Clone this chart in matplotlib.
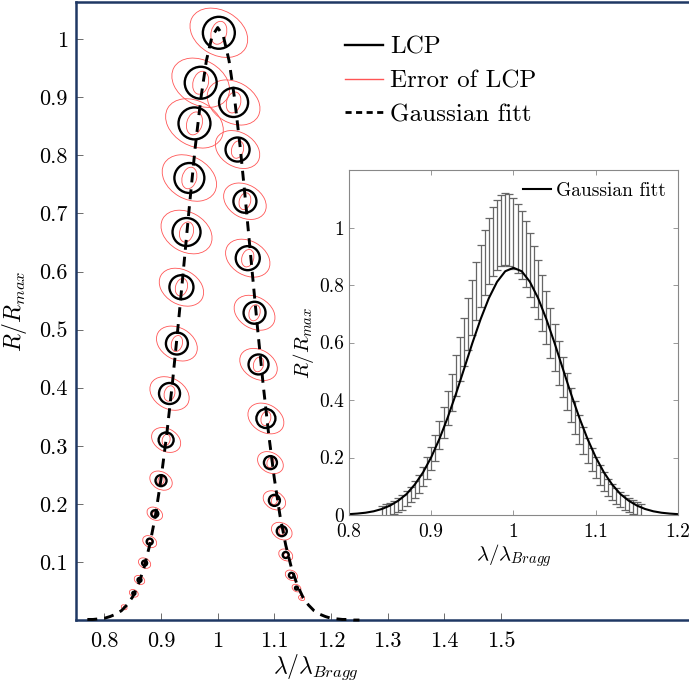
import matplotlib
matplotlib.use("Agg")
import matplotlib.pyplot as plt
from matplotlib.patches import Ellipse
from matplotlib.transforms import ScaledTranslation
from matplotlib.lines import Line2D

plt.rcParams['font.family'] = 'serif'
plt.rcParams['font.serif'] = ['cmr10']
plt.rcParams['mathtext.fontset'] = 'cm'
plt.rcParams['axes.formatter.use_mathtext'] = True

# LCP points (main plot): wavelength, R/Rmax, uncertainty radius (R/Rmax units)
lcp_x = [1.002, 0.970, 0.959, 0.950, 0.945, 0.936, 0.928, 0.915, 0.909, 0.900,
         0.889, 0.880, 0.871, 0.862, 0.852, 0.835,
         1.028, 1.035, 1.048, 1.053, 1.065, 1.072, 1.085, 1.093, 1.100, 1.113,
         1.120, 1.130, 1.139, 1.148]
lcp_y = [1.011, 0.925, 0.855, 0.761, 0.668, 0.573, 0.476, 0.390, 0.310, 0.240,
         0.183, 0.135, 0.098, 0.069, 0.046, 0.022,
         0.891, 0.810, 0.721, 0.623, 0.529, 0.440, 0.347, 0.271, 0.206, 0.153,
         0.112, 0.077, 0.055, 0.038]
lcp_err = [0.0275, 0.0275, 0.0275, 0.0258, 0.0241, 0.0207, 0.0189, 0.0181, 0.0129, 0.0095,
           0.0060, 0.0052, 0.0043, 0.0034, 0.0026, 0.0010,
           0.0250, 0.0207, 0.0198, 0.0207, 0.0189, 0.0172, 0.0164, 0.0112, 0.0095, 0.0086,
           0.0052, 0.0043, 0.0026, 0.0012]

# Gaussian fit (main plot)
fit_x = [0.77, 0.78, 0.79, 0.80, 0.81, 0.82, 0.83, 0.84, 0.85, 0.86, 0.87, 0.88,
         0.89, 0.90, 0.91, 0.92, 0.93, 0.94, 0.95, 0.96, 0.97, 0.98, 0.99, 1.00,
         1.01, 1.02, 1.03, 1.04, 1.05, 1.06, 1.07, 1.08, 1.09, 1.10, 1.11, 1.12,
         1.13, 1.14, 1.15, 1.16, 1.17, 1.18, 1.19, 1.20, 1.21, 1.22, 1.23, 1.24, 1.25]
fit_y = [0.001, 0.001, 0.002, 0.003, 0.006, 0.010, 0.016, 0.026, 0.040, 0.061, 0.090, 0.129,
         0.179, 0.243, 0.319, 0.407, 0.505, 0.608, 0.712, 0.811, 0.896, 0.963, 1.005, 1.020,
         1.005, 0.963, 0.896, 0.811, 0.712, 0.608, 0.505, 0.407, 0.319, 0.243, 0.179, 0.129,
         0.090, 0.061, 0.040, 0.026, 0.016, 0.010, 0.006, 0.003, 0.002, 0.001, 0.001, 0.000, 0.000]

# inset: measured reflectance with error bars
ins_x = [0.840, 0.845, 0.850, 0.855, 0.860, 0.865, 0.870, 0.875, 0.880, 0.885, 0.890, 0.895,
         0.900, 0.905, 0.910, 0.915, 0.920, 0.925, 0.930, 0.935, 0.940, 0.945, 0.950, 0.955,
         0.960, 0.965, 0.970, 0.975, 0.980, 0.985, 0.990, 0.995, 1.000, 1.005, 1.010, 1.015,
         1.020, 1.025, 1.030, 1.035, 1.040, 1.045, 1.050, 1.055, 1.060, 1.065, 1.070, 1.075,
         1.080, 1.085, 1.090, 1.095, 1.100, 1.105, 1.110, 1.115, 1.120, 1.125, 1.130, 1.135,
         1.140, 1.145, 1.150, 1.155]
ins_y = [0.011, 0.015, 0.020, 0.026, 0.034, 0.044, 0.056, 0.071, 0.088, 0.109, 0.134, 0.164,
         0.197, 0.234, 0.277, 0.323, 0.373, 0.427, 0.484, 0.543, 0.603, 0.664, 0.722, 0.779,
         0.831, 0.878, 0.918, 0.951, 0.975, 0.990, 0.995, 0.991, 0.980, 0.962, 0.938, 0.907,
         0.870, 0.830, 0.785, 0.737, 0.686, 0.634, 0.582, 0.530, 0.479, 0.430, 0.383, 0.339,
         0.298, 0.260, 0.225, 0.193, 0.165, 0.139, 0.117, 0.097, 0.080, 0.066, 0.054, 0.044,
         0.035, 0.028, 0.022, 0.017]
ins_err = [0.021, 0.022, 0.022, 0.023, 0.024, 0.025, 0.026, 0.027, 0.029, 0.031, 0.034, 0.037,
           0.041, 0.045, 0.049, 0.054, 0.059, 0.065, 0.071, 0.077, 0.083, 0.090, 0.096, 0.102,
           0.107, 0.112, 0.116, 0.120, 0.122, 0.124, 0.124, 0.124, 0.123, 0.121, 0.118, 0.115,
           0.111, 0.107, 0.102, 0.097, 0.092, 0.087, 0.081, 0.076, 0.070, 0.065, 0.060, 0.056,
           0.051, 0.047, 0.044, 0.040, 0.037, 0.035, 0.032, 0.030, 0.028, 0.027, 0.026, 0.025,
           0.024, 0.023, 0.022, 0.022]

# inset: Gaussian fit
ins_fit_x = [0.80, 0.81, 0.82, 0.83, 0.84, 0.85, 0.86, 0.87, 0.88, 0.89, 0.90, 0.91, 0.92, 0.93,
             0.94, 0.95, 0.96, 0.97, 0.98, 0.99, 1.00, 1.01, 1.02, 1.03, 1.04, 1.05, 1.06, 1.07,
             1.08, 1.09, 1.10, 1.11, 1.12, 1.13, 1.14, 1.15, 1.16, 1.17, 1.18, 1.19, 1.20]
ins_fit_y = [0.003, 0.005, 0.008, 0.013, 0.021, 0.033, 0.050, 0.073, 0.106, 0.148, 0.201, 0.265,
             0.339, 0.421, 0.509, 0.598, 0.681, 0.754, 0.811, 0.848, 0.860, 0.848, 0.811, 0.754,
             0.681, 0.598, 0.509, 0.421, 0.339, 0.265, 0.201, 0.148, 0.106, 0.073, 0.050, 0.033,
             0.021, 0.013, 0.008, 0.005, 0.003]

main_xticks = [0.8, 0.9, 1.0, 1.1, 1.2, 1.3, 1.4, 1.5]
main_xlabels = ['0.8', '0.9', '1', '1.1', '1.2', '1.3', '1.4', '1.5']
main_yticks = [0.1, 0.2, 0.3, 0.4, 0.5, 0.6, 0.7, 0.8, 0.9, 1.0]
main_ylabels = ['0.1', '0.2', '0.3', '0.4', '0.5', '0.6', '0.7', '0.8', '0.9', '1']
ins_xticks = [0.8, 0.9, 1.0, 1.1, 1.2]
ins_xlabels = ['0.8', '0.9', '1', '1.1', '1.2']
ins_yticks = [0, 0.2, 0.4, 0.6, 0.8, 1.0, 1.2]
ins_ylabels = ['0', '0.2', '0.4', '0.6', '0.8', '1', '']

navy = '#1f3864'
red = '#ff5555'

fig = plt.figure(figsize=(6.89, 6.89), dpi=100)
ax = fig.add_axes([0.1103, 0.1001, 0.905, 0.897])
ax.set_xlim(0.75, 1.85)
ax.set_ylim(0, 1.064)
for s in ax.spines.values():
    s.set_color(navy)
    s.set_linewidth(1.8)
ax.set_xticks(main_xticks, labels=main_xlabels)
ax.set_yticks(main_yticks, labels=main_ylabels)
ax.tick_params(direction='in', length=5, width=0.6, color='#555555', labelsize=16)
ax.tick_params(axis='x', pad=8)
ax.tick_params(axis='y', pad=6)
ax.set_xlabel(r'$\lambda/\lambda_{Bragg}$', fontsize=17)
ax.xaxis.set_label_coords(0.385, -0.052)
ax.set_ylabel(r'$R/R_{max}$', fontsize=17)
ax.yaxis.set_label_coords(-0.075, 0.5)

# error ellipses and LCP circles, sized in pixels from the y scale
ppu = ax.transData.transform((0, 1))[1] - ax.transData.transform((0, 0))[1]
for x, y, r in zip(lcp_x, lcp_y, lcp_err):
    d = 2 * r * ppu
    off = ScaledTranslation(x, y, ax.transData)
    ax.add_patch(Ellipse((0, 0), 1.8 * d + 4, 1.3 * d + 3, angle=-30, transform=off,
                         fill=False, ec=red, lw=0.6, zorder=2))
    ax.add_patch(Ellipse((0, 0), 0.45 * d + 1, 0.7 * d + 1, angle=-15, transform=off,
                         fill=False, ec=red, lw=0.6, zorder=2))
    if d > 2.5:
        ax.add_patch(Ellipse((0, 0), d, d, transform=off, fill=False, ec='black',
                             lw=1.7, zorder=3))

ax.plot(fit_x, fit_y, color='black', lw=2.1, linestyle=(0, (3.4, 2.4)), zorder=4, clip_on=False)

handles = [Line2D([], [], color='black', lw=1.7),
           Line2D([], [], color=red, lw=1.0),
           Line2D([], [], color='black', lw=2.0, linestyle=(0, (2.2, 1.6)))]
ax.legend(handles, ['LCP', 'Error of LCP', 'Gaussian fitt'], loc='upper left',
          bbox_to_anchor=(345 / 689, 1 - 36 / 689), bbox_transform=fig.transFigure,
          frameon=False, fontsize=18, handlelength=1.5, handletextpad=0.3,
          labelspacing=0.45, borderpad=0, borderaxespad=0)

# inset
ax2 = fig.add_axes([0.5065, 0.2525, 0.4775, 0.5007])
ax2.set_xlim(0.8, 1.2)
ax2.set_ylim(0, 1.2)
for s in ax2.spines.values():
    s.set_color('#888888')
    s.set_linewidth(0.8)
ax2.errorbar(ins_x, ins_y, yerr=ins_err, fmt='none', ecolor='#666666',
             elinewidth=0.9, capsize=2.6, capthick=0.9)
ax2.plot(ins_fit_x, ins_fit_y, color='black', lw=1.5, label='Gaussian fitt')
ax2.set_xticks(ins_xticks, labels=ins_xlabels)
ax2.set_yticks(ins_yticks, labels=ins_ylabels)
ax2.tick_params(direction='in', length=3.5, width=0.6, color='#888888', labelsize=14,
                top=True, right=True)
ax2.tick_params(axis='x', pad=6)
ax2.set_xlabel(r'$\lambda/\lambda_{Bragg}$', fontsize=15, labelpad=1)
ax2.set_ylabel(r'$R/R_{max}$', fontsize=15, labelpad=2)
ax2.legend(loc='upper right', frameon=False, fontsize=14, handlelength=1.4,
           handletextpad=0.3, borderaxespad=0.2)

fig.savefig('out.png', dpi=100)
